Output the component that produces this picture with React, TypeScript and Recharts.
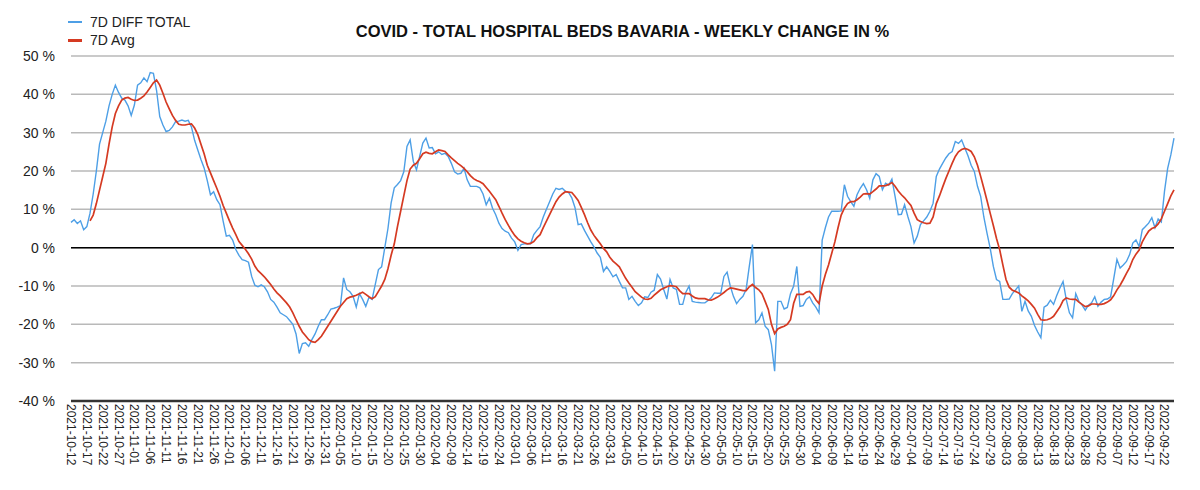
import React from 'react';
import { LineChart, Line, XAxis, YAxis, CartesianGrid, ReferenceLine } from 'recharts';

// first day of the series, one point per day
const START_DATE = '2021-10-12';

// 7D DIFF TOTAL, % (daily)
const diffTotal = [
  6.6, 7.3, 6.3, 7.0, 4.7, 5.5, 9, 14, 20, 27,
  30, 33, 37, 40, 42.4, 40.5, 39, 38.5, 37, 34.5,
  37.2, 42.4, 43, 44.3, 43.3, 45.7, 45.5, 41, 34.2, 32,
  30.3, 30.6, 31.5, 32.9, 33, 33.3, 33, 33.2, 31.5, 28,
  25.5, 23, 20.8, 17.5, 13.8, 14.6, 12.5, 11.2, 6.9, 3,
  3.2, 2, -0.5, -2, -3.1, -3.4, -3.8, -7.5, -9.8, -10.2,
  -9.7, -10.2, -11.5, -13.5, -14.2, -15.5, -17, -17.5, -18, -19,
  -20, -22.5, -27.6, -25, -24.8, -25.7, -24, -22.5, -20.5, -18.8,
  -18.8, -17.5, -16, -15.8, -15.5, -15.1, -7.9, -10.9, -11.5, -12.7,
  -15.5, -12, -13.5, -15.3, -13, -13.5, -9.6, -5.7, -5, 0,
  5, 11.7, 15.6, 16.5, 17.5, 19.8, 26.4, 28.1, 22.5, 20.3,
  23.8, 27.3, 28.6, 26, 26.1, 24.5, 25, 24.3, 24.6, 23.8,
  22, 19.8, 19.2, 19.4, 20.7, 17.7, 16, 16, 16, 15.6,
  14, 11.2, 12.9, 10.3, 8.6, 6.4, 5, 4.3, 3.9, 2.5,
  1.5, -0.7, 0.8, 1, 1, 1, 3.4, 4.5, 5.5, 8,
  10, 12, 14, 15.5, 15.2, 15.5, 14.7, 14.4, 13, 10.5,
  6, 6.2, 4.5, 3, 1.5, 0.2, -1.4, -2.5, -6.2, -5,
  -6.2, -7.6, -7, -8.8, -10.5, -10.5, -13.5, -12.7, -14, -15.1,
  -14.4, -12.8, -13, -11.6, -11.1, -7, -8.2, -10.9, -13.4, -8.3,
  -10.5, -10.9, -14.8, -14.8, -11.6, -10, -14, -14.2, -14.3, -14.4,
  -14.4, -13.8, -13.1, -11.8, -11.9, -11.9, -7.5, -6.4, -10, -12.7,
  -14.6, -13.5, -12.7, -10.9, -4.9, 0.8, -19.6, -18.8, -17, -20.5,
  -21.4, -25.3, -32.2, -14, -14, -16, -15.6, -12, -10, -4.9,
  -15.3, -15.1, -13.5, -12.8, -14.4, -15.5, -17, 2, 5.2, 8,
  9.5, 9.5, 9.5, 9.6, 16.4, 13.4, 12, 10.8, 13.8, 15.5,
  16.7, 15.1, 12.9, 17.7, 19.3, 18.6, 15.1, 16.8, 16.3, 17.9,
  13.4, 8.6, 8.7, 11.2, 8.2, 5.5, 1.2, 3, 6, 7,
  8, 9.5, 11.6, 18.6, 20.5, 22, 23.4, 24.5, 25.1, 27.7,
  27.2, 28.1, 26, 24, 21.5, 19.9, 16, 13.4, 8, 3.8,
  -0.1, -4.9, -8.3, -8.8, -13.5, -13.5, -13.4, -12, -11, -10,
  -16.6, -14, -16.5, -17.9, -20.3, -22, -23.5, -15.5, -15, -13.7,
  -14.8, -12.5, -10.5, -8.8, -13.5, -17, -18.3, -12, -14, -15,
  -16.3, -15, -14.4, -12.8, -15.3, -14.2, -13.5, -13.4, -12.8, -8,
  -3.1, -5.3, -4.5, -3.6, -1.8, 1.2, 2, 0.3, 4.7, 5.5,
  6.4, 7.8, 5.2, 7.5, 6.7, 14.7, 20.7, 24.2, 28.6,
];

// 7D Avg, % (starts on the 7th day)
const avg7d = [
  null, null, null, null, null, null, 7, 8.5, 11.5, 15,
  18.5, 22, 27, 31.5, 35, 37, 38.5, 39, 39.2, 38.7,
  38.4, 38.5, 39, 39.6, 40.6, 41.8, 43, 43.7, 42.4, 40.3,
  38, 36.2, 34.5, 33.2, 32.2, 32, 32, 32.2, 32.3, 31.2,
  29.5, 27, 24.5, 21.5, 19.5, 17.5, 15.5, 13.4, 11, 9,
  7, 5.1, 3.4, 1.6, 0.6, -0.4, -1.6, -3, -4.8, -6,
  -6.8, -7.6, -8.6, -9.6, -10.8, -11.8, -12.6, -13.5, -14.4, -15.5,
  -17, -18.8, -20.5, -22, -23, -24, -24.5, -24.7, -24, -23.1,
  -21.8, -20.5, -19.2, -17.9, -16.6, -15.3, -14.3, -13.3, -12.9, -12.7,
  -12.4, -12, -11.6, -12.2, -12.8, -13.3, -12.8, -11.4, -10, -8.3,
  -5.5, -2, 1, 5.5, 9.5, 13.5, 17.5, 20.5, 21.5, 22,
  23.2, 24.5, 24.9, 24.6, 24.5, 25, 25.5, 25.3, 25.1, 24.2,
  23.4, 22.7, 22, 21.4, 20.7, 19.8, 18.8, 18, 17.5, 17.2,
  16.7, 15.7, 14.7, 13.6, 12.5, 10.8, 9, 7.3, 5.8, 4.4,
  3.2, 2.3, 1.7, 1.3, 1, 1.1, 1.6, 2.6, 3.4, 5.2,
  6.9, 8.6, 10.3, 12, 13.2, 14, 14.6, 14.5, 14.4, 13.4,
  12.3, 10.5, 8.6, 6.5, 4.6, 3.2, 2.1, 1, -0.2, -1.1,
  -2.5, -3.5, -4.2, -5, -6.5, -8, -9.2, -10.3, -11.5, -12.2,
  -12.9, -13.4, -13.5, -13.2, -12.4, -11.7, -11, -10.6, -10.2, -9.9,
  -10, -10.2, -11.2, -12, -12, -12, -12.6, -13.1, -13.3, -13.3,
  -13.3, -13.6, -13.7, -13.3, -12.9, -12.3, -11.7, -11, -10.5, -10.6,
  -10.8, -11, -11.2, -11.2, -10.2, -9.6, -10.4, -11, -12, -14,
  -16.1, -20, -22.4, -21.2, -20.8, -20.5, -20, -18.8, -14.5, -12.2,
  -12.2, -12.2, -11.6, -11.4, -12.2, -13.6, -14.6, -10, -7, -4.5,
  -1.5, 1.5, 5.2, 8.5, 10.3, 11.5, 12, 12, 12.5, 13.2,
  14, 14.1, 14, 14.6, 15.3, 16.1, 16.1, 16.2, 16.5, 17,
  16, 14.8, 13.8, 13, 12, 11, 9, 7.3, 6.8, 6.5,
  6.3, 6.4, 8, 11.5, 13.5, 15.8, 18, 20, 22, 23.8,
  25, 25.6, 25.9, 25.6, 25.1, 23.7, 21.5, 18.6, 15.5, 12.3,
  9, 5.8, 2.4, -0.5, -4.5, -8.3, -10.3, -11.1, -11.4, -11.8,
  -12.6, -13.2, -13.9, -14.8, -15.8, -17.4, -18.8, -18.9, -18.8, -18.5,
  -17.9, -16.7, -15.5, -13.8, -13.1, -13.4, -13.5, -13.5, -14.2, -14.8,
  -15.4, -15.2, -14.7, -14.7, -14.8, -14.8, -14.6, -14.2, -13.6, -12.5,
  -11, -9.8, -8.3, -6.7, -5.2, -3.1, -1.7, -0.6, 1.5, 3,
  4.3, 5, 5.3, 6.2, 7.5, 9.5, 11.5, 13.5, 15.1,
];

const yTicks = [-40, -30, -20, -10, 0, 10, 20, 30, 40, 50];

const BLUE = '#4d9fe6';
const RED = '#d53a22';
const FONT = '"Liberation Sans", Arial, Helvetica, sans-serif';

function dayLabel(i: number) {
  const d = new Date(START_DATE + 'T00:00:00Z');
  d.setUTCDate(d.getUTCDate() + i);
  return d.toISOString().slice(0, 10);
}

const data = diffTotal.map((v, i) => ({ date: dayLabel(i), diff: v, avg: avg7d[i] }));

function DateTick({ x, y, payload }: any) {
  return (
    <text
      transform={`translate(${x},${y}) rotate(90)`}
      textAnchor="start"
      dominantBaseline="central"
      fontSize={12}
      fill="#222"
      fontFamily={FONT}
    >
      {payload.value}
    </text>
  );
}

function LegendBox() {
  const row = (color: string, h: number, text: string) => (
    <div style={{ display: 'flex', alignItems: 'center', height: 18 }}>
      <div style={{ width: 14, height: h, backgroundColor: color, marginRight: 8 }} />
      <span style={{ fontSize: 14, color: '#222' }}>{text}</span>
    </div>
  );
  return (
    <div style={{ position: 'absolute', left: 68, top: 13, fontFamily: FONT, lineHeight: 1 }}>
      {row(BLUE, 2, '7D DIFF TOTAL')}
      {row(RED, 3, '7D Avg')}
    </div>
  );
}

export default function App() {
  return (
    <div style={{ position: 'absolute', left: 0, top: 0, width: 1200, height: 490, background: '#fff' }}>
      <div
        style={{
          position: 'absolute',
          left: 0,
          width: 1245,
          top: 22,
          textAlign: 'center',
          fontFamily: FONT,
          fontWeight: 'bold',
          fontSize: 16.5,
          color: '#111',
        }}
      >
        COVID - TOTAL HOSPITAL BEDS BAVARIA - WEEKLY CHANGE IN %
      </div>
      <LegendBox />
      <LineChart width={1200} height={490} data={data} margin={{ top: 56, right: 26, bottom: 0, left: 0 }}>
        <CartesianGrid vertical={false} stroke="#b9b9b9" strokeWidth={1.5} />
        <XAxis
          dataKey="date"
          interval={4}
          tick={<DateTick />}
          tickLine={false}
          tickSize={0}
          tickMargin={3}
          axisLine={{ stroke: '#333', strokeWidth: 2.5 }}
          height={89}
        />
        <YAxis
          type="number"
          domain={[-40, 50]}
          ticks={yTicks}
          tickFormatter={(v) => `${v} %`}
          tick={{ fontSize: 14, fill: '#222', fontFamily: FONT }}
          axisLine={false}
          tickLine={false}
          tickSize={8}
          tickMargin={8}
          width={71}
        />
        <ReferenceLine y={0} stroke="#000" strokeWidth={1.5} />
        <Line
          dataKey="diff"
          stroke={BLUE}
          strokeWidth={1.4}
          dot={false}
          isAnimationActive={false}
          type="linear"
        />
        <Line
          dataKey="avg"
          stroke={RED}
          strokeWidth={1.7}
          dot={false}
          isAnimationActive={false}
          type="linear"
          connectNulls={false}
        />
      </LineChart>
    </div>
  );
}
